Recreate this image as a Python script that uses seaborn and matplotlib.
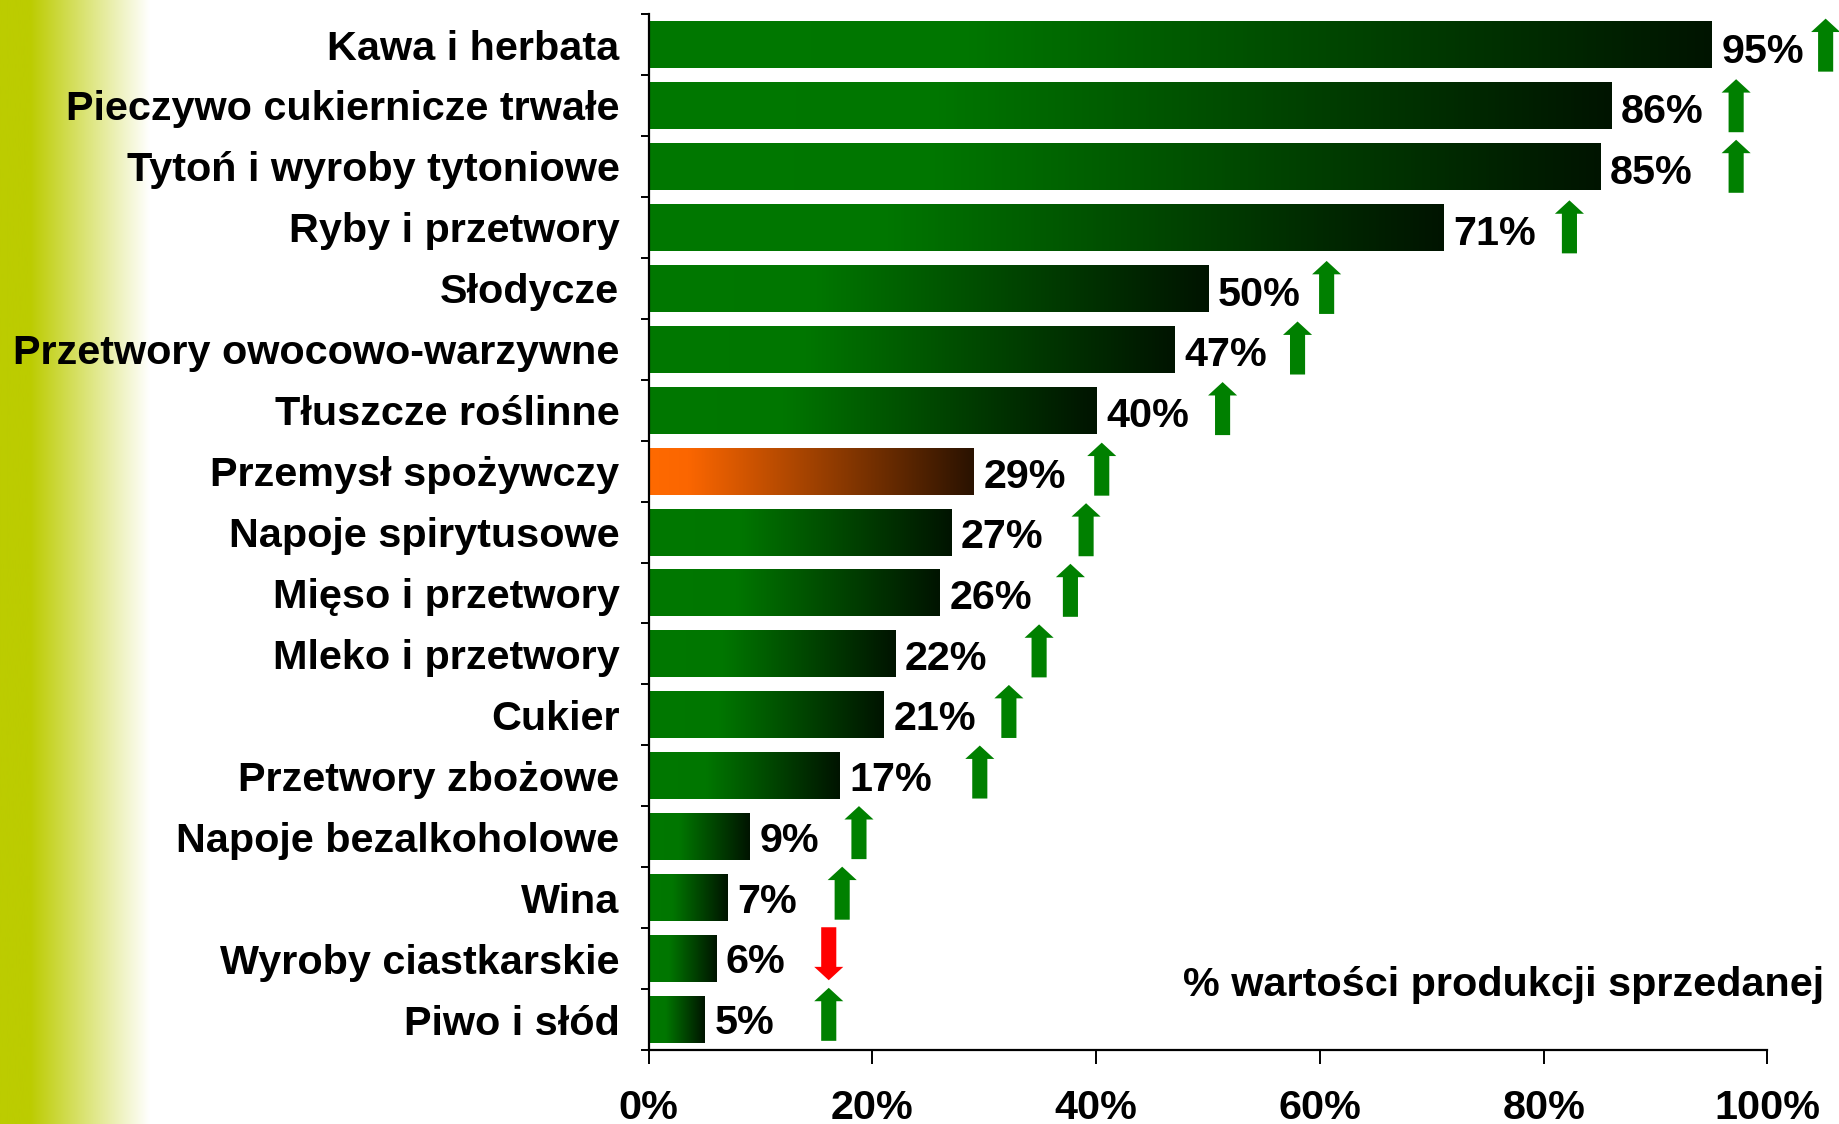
import numpy as np
import pandas as pd
import seaborn as sns
import matplotlib.pyplot as plt
from matplotlib.colors import LinearSegmentedColormap

sns.set_theme(style='white')
plt.rcParams['font.family'] = ['Liberation Sans', 'DejaVu Sans']

# Data
categories = ['Kawa i herbata', 'Pieczywo cukiernicze trwałe', 'Tytoń i wyroby tytoniowe',
              'Ryby i przetwory', 'Słodycze', 'Przetwory owocowo-warzywne', 'Tłuszcze roślinne',
              'Przemysł spożywczy', 'Napoje spirytusowe', 'Mięso i przetwory', 'Mleko i przetwory',
              'Cukier', 'Przetwory zbożowe', 'Napoje bezalkoholowe', 'Wina', 'Wyroby ciastkarskie',
              'Piwo i słód']
values = [95, 86, 85, 71, 50, 47, 40, 29, 27, 26, 22, 21, 17, 9, 7, 6, 5]
arrow_x = [105.2, 97.2, 97.2, 82.3, 60.6, 58.0, 51.3, 40.5, 39.1, 37.7, 34.9, 32.2, 29.6,
           18.8, 17.3, 16.1, 16.1]
trend_up = [True] * 15 + [False, True]
highlight = 'Przemysł spożywczy'
xticks = [0, 20, 40, 60, 80, 100]
note = '% wartości produkcji sprzedanej'

df = pd.DataFrame({'category': categories, 'value': values})

FS = 29.8
green_cmap = LinearSegmentedColormap.from_list(
    'g', [(0, '#007800'), (0.3, '#007600'), (1, '#001400')])
orange_cmap = LinearSegmentedColormap.from_list(
    'o', [(0, '#ff6a00'), (0.12, '#fb6600'), (1, '#2a1200')])

fig = plt.figure(figsize=(18.39, 11.24), dpi=100)

# left yellow-green fade strip
strip = fig.add_axes([0, 0, 150 / 1839, 1], zorder=-1)
strip_cmap = LinearSegmentedColormap.from_list(
    's', [(0, '#bccc00'), (0.2, '#bccc00'), (1, '#ffffff')])
strip.imshow(np.linspace(0, 1, 256)[None, :], cmap=strip_cmap, aspect='auto',
             extent=[0, 1, 0, 1])
strip.axis('off')

ax = fig.add_axes([0.3527, 0.0658, 0.9611 - 0.3527, 0.9875 - 0.0658])
sns.barplot(data=df, x='value', y='category', orient='h', color='green', width=0.77, ax=ax)

# replace flat bars with horizontal gradients
grad = np.linspace(0, 1, 256)[None, :]
for patch, cat in zip(ax.patches, categories):
    x0, y0, w, h = patch.get_x(), patch.get_y(), patch.get_width(), patch.get_height()
    cmap = orange_cmap if cat == highlight else green_cmap
    ax.imshow(grad, cmap=cmap, aspect='auto', extent=[x0, x0 + w, y0 + h, y0], zorder=2)
    patch.set_visible(False)

# value labels and trend arrows
for i, (v, ax_x, up) in enumerate(zip(values, arrow_x, trend_up)):
    ax.text(v + 0.9, i + 0.3 - 0.004 * i, f'{v}%', ha='left', va='baseline', fontsize=FS,
            fontweight='bold', color='black', clip_on=False, zorder=3)
    yc = i + 0.01 - 0.006 * i
    half = 0.435
    if up:
        y_start, dy, col = yc + half, -2 * half, '#008000'
    else:
        y_start, dy, col = yc - half, 2 * half, '#ff0000'
    ax.arrow(ax_x, y_start, 0, dy, width=1.35, head_width=2.6, head_length=0.22,
             length_includes_head=True, color=col, clip_on=False, zorder=3, lw=0)

ax.set_xlim(0, 100)
ax.set_ylim(len(categories) - 0.5, -0.5)
ax.set_xticks(xticks)
ax.set_xticklabels([f'{t}%' for t in xticks], fontsize=FS, fontweight='bold')
ax.set_yticks(range(len(categories)))
ax.set_yticklabels(categories, fontsize=FS, fontweight='bold')
ax.set_yticks(np.arange(-0.5, len(categories), 1), minor=True)
ax.set_xlabel('')
ax.set_ylabel('')

sns.despine(ax=ax)
for side in ['left', 'bottom']:
    ax.spines[side].set_color('black')
    ax.spines[side].set_linewidth(1.6)
ax.tick_params(axis='y', which='major', length=0, pad=21, colors='black')
ax.tick_params(axis='y', which='minor', left=True, length=6, width=1.4, color='black')
ax.tick_params(axis='x', which='major', bottom=True, length=10, width=1.4, pad=18,
               colors='black', direction='out')

fig.text(1824 / 1839, 1 - 985 / 1124, note, ha='right', va='center', fontsize=FS,
         fontweight='bold', color='black')

fig.savefig('out.png', dpi=100)
